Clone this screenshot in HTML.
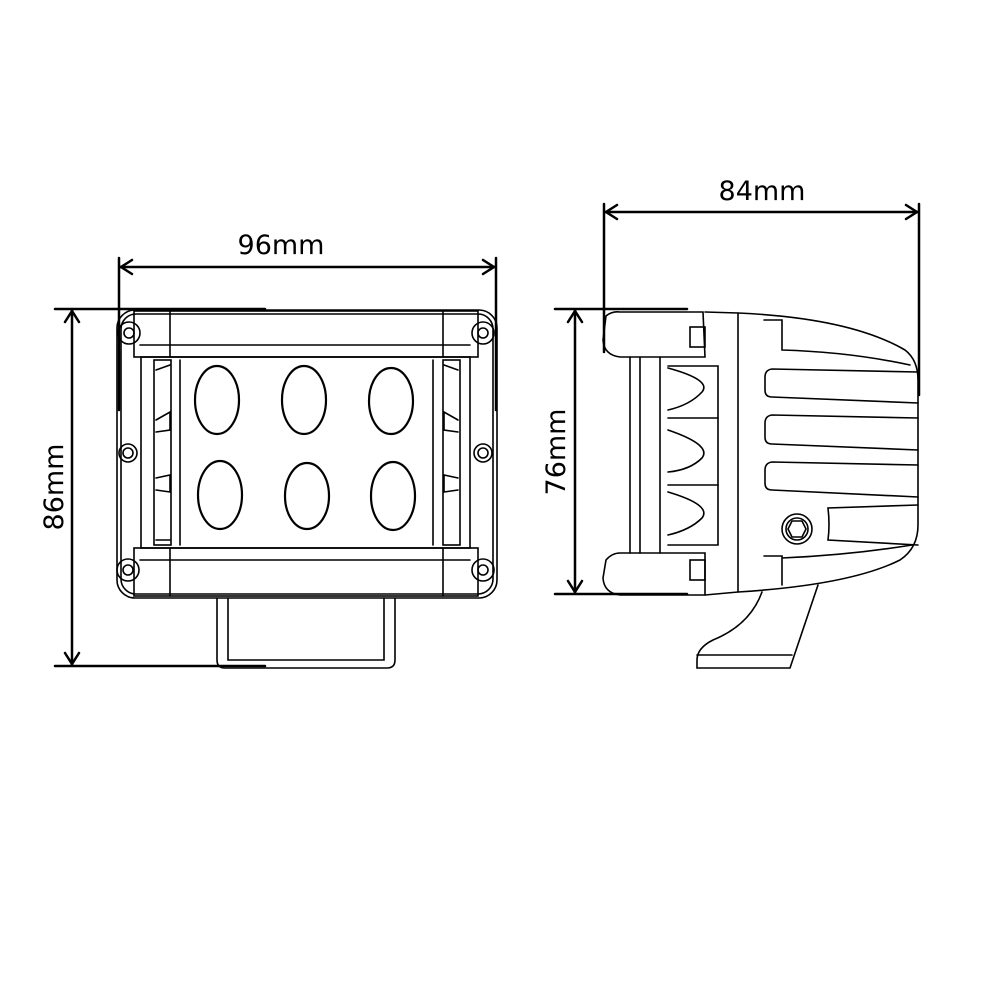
<!DOCTYPE html>
<html><head><meta charset="utf-8"><style>
html,body{margin:0;padding:0;background:#fff;}
svg{display:block;}
text{font-family:"DejaVu Sans","Liberation Sans",sans-serif;font-size:27px;fill:#000;}
</style></head><body>
<svg width="1000" height="1000" viewBox="0 0 1000 1000" xmlns="http://www.w3.org/2000/svg">
<g fill="none" stroke="#000" stroke-linecap="round">
<!-- LEFT DIMENSIONS -->
<g stroke-width="2.5">
<line x1="119" y1="258" x2="119" y2="410"/>
<line x1="496" y1="258" x2="496" y2="410"/>
<line x1="120" y1="267" x2="495" y2="267"/>
<polyline points="132,260 121,267 132,274"/>
<polyline points="483,260 494,267 483,274"/>
<line x1="72" y1="310" x2="72" y2="665"/>
<polyline points="65,322 72,311 79,322"/>
<polyline points="65,653 72,664 79,653"/>
<line x1="55" y1="309" x2="265" y2="309"/>
<line x1="55" y1="666" x2="265" y2="666"/>
<!-- RIGHT DIMENSIONS -->
<line x1="604" y1="204" x2="604" y2="352"/>
<line x1="919" y1="204" x2="919" y2="395"/>
<line x1="605" y1="212" x2="918" y2="212"/>
<polyline points="617,205 606,212 617,219"/>
<polyline points="906,205 917,212 906,219"/>
<line x1="575" y1="310" x2="575" y2="593"/>
<polyline points="568,322 575,311 582,322"/>
<polyline points="568,581 575,592 582,581"/>
<line x1="555" y1="309" x2="687" y2="309"/>
<line x1="555" y1="594" x2="687" y2="594"/>
</g>
<!-- FRONT VIEW -->
<g stroke-width="1.6">
<rect x="117" y="310" width="380" height="288" rx="18"/>
<rect x="121" y="314" width="372" height="280" rx="15"/>
<rect x="134" y="311" width="344" height="46"/>
<line x1="140" y1="345" x2="470" y2="345"/>
<line x1="170" y1="311" x2="170" y2="357"/><line x1="443" y1="311" x2="443" y2="357"/>
<rect x="134" y="548" width="344" height="48"/>
<line x1="140" y1="560" x2="470" y2="560"/>
<line x1="170" y1="548" x2="170" y2="596"/><line x1="443" y1="548" x2="443" y2="596"/>
<rect x="141" y="357" width="329" height="191"/>
<rect x="154" y="360" width="17" height="185"/>
<rect x="443" y="360" width="17" height="185"/>
<line x1="180" y1="360" x2="180" y2="545"/><line x1="433" y1="360" x2="433" y2="545"/>
<polyline points="156,370 170,365"/><polyline points="156,420 170,412 170,430 156,432"/>
<polyline points="156,478 170,475 170,492 156,490"/><polyline points="156,540 170,540"/>
<polyline points="458,370 444,365"/><polyline points="458,420 444,412 444,430 458,432"/>
<polyline points="458,478 444,475 444,492 458,490"/>
<g stroke-width="2.2">
<ellipse cx="217" cy="400" rx="22" ry="34"/>
<ellipse cx="304" cy="400" rx="22" ry="34"/>
<ellipse cx="391" cy="401" rx="22" ry="33"/>
<ellipse cx="220" cy="495" rx="22" ry="34"/>
<ellipse cx="307" cy="496" rx="22" ry="33"/>
<ellipse cx="393" cy="496" rx="22" ry="34"/>
</g>
<g>
<circle cx="129" cy="333" r="11"/><circle cx="129" cy="333" r="5"/>
<circle cx="483" cy="333" r="11"/><circle cx="483" cy="333" r="5"/>
<circle cx="128" cy="453" r="9"/><circle cx="128" cy="453" r="5"/>
<circle cx="483" cy="453" r="9"/><circle cx="483" cy="453" r="5"/>
<circle cx="128" cy="570" r="11"/><circle cx="128" cy="570" r="5"/>
<circle cx="483" cy="570" r="11"/><circle cx="483" cy="570" r="5"/>
</g>
<path d="M217,598 V660 Q217,668 225,668 H387 Q395,668 395,660 V598"/>
<path d="M228,598 V660 H384 V598"/>
</g>
<!-- SIDE VIEW -->
<g stroke-width="1.6">
<path d="M606,316 Q612,311 620,312 L703,312 L705,357 L620,357 Q604,355 603,340 Z"/>
<path d="M606,560 Q612,553 620,553 L705,553 L705,595 L620,595 Q604,593 603,578 Z"/>
<rect x="690" y="327" width="15" height="20"/><rect x="690" y="560" width="15" height="20"/>
<line x1="630" y1="357" x2="630" y2="553"/><line x1="640" y1="357" x2="640" y2="553"/>
<line x1="660" y1="357" x2="660" y2="553"/>
<path d="M668,366 H718 V545 H668"/>
<line x1="668" y1="418" x2="718" y2="418"/><line x1="668" y1="485" x2="718" y2="485"/>
<path d="M668,368 Q712,380 702,392 Q690,405 668,410"/>
<path d="M668,430 Q712,445 702,458 Q690,470 668,472"/>
<path d="M668,492 Q712,505 702,518 Q690,530 668,535"/>
<path d="M705,312 L738,313 Q850,318 905,350 Q918,360 918,380 V525 Q918,548 900,560 Q850,585 738,592 L705,595"/>
<line x1="738" y1="313" x2="738" y2="592"/>
<path d="M764,320 H782 V350 Q850,352 910,365"/>
<path d="M918,372 L772,369 Q765,370 765,377 V390 Q765,397 772,397 L918,403"/>
<path d="M918,418 L772,415 Q765,416 765,423 V437 Q765,444 772,444 L918,450"/>
<path d="M918,465 L772,462 Q765,463 765,470 V483 Q765,490 772,490 L918,497"/>
<path d="M918,505 L828,508 Q830,525 828,540 L918,545"/>
<path d="M764,556 H782 V585 M782,558 Q850,555 912,545"/>
<circle cx="797" cy="529" r="15"/><circle cx="797" cy="529" r="11"/>
<polygon points="792,521 802,521 806,529 802,537 792,537 788,529"/>
<path d="M762,592 Q750,625 713,640 Q697,648 697,660 V668 H790 L818,585"/>
<line x1="697" y1="655" x2="792" y2="655"/>
</g>
</g>
<text x="281" y="254" text-anchor="middle">96mm</text>
<text x="762" y="200" text-anchor="middle">84mm</text>
<text transform="translate(63,487) rotate(-90)" text-anchor="middle">86mm</text>
<text transform="translate(565,452) rotate(-90)" text-anchor="middle">76mm</text>
</svg>
</body></html>
